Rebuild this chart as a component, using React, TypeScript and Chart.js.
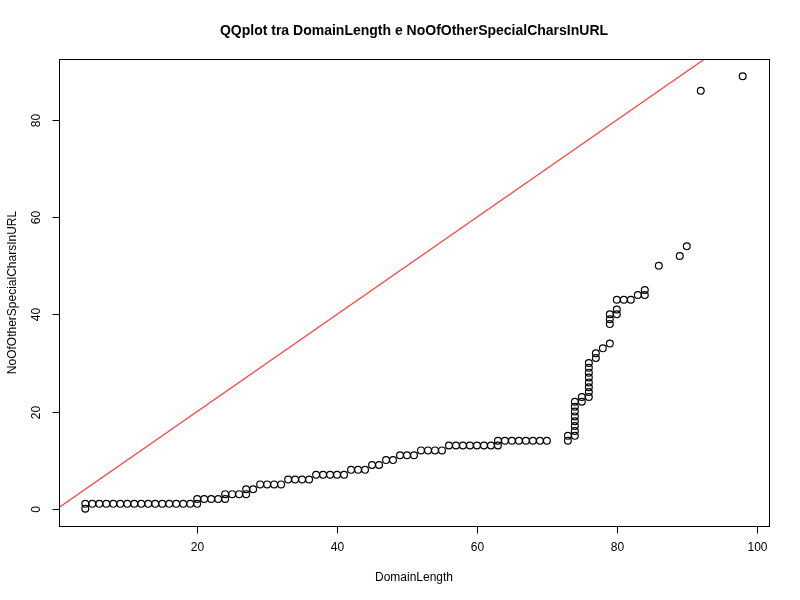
import { useEffect, useRef } from 'react';
import { Chart, registerables } from 'chart.js';

Chart.register(...registerables);

// sample quantiles (DomainLength vs NoOfOtherSpecialCharsInURL)
const domainLength = [
  4, 4, 5, 6, 7, 8, 9, 10, 11, 12, 13, 14, 15, 16, 17, 18, 19,
  20, 20, 21, 22, 23, 24, 24, 25, 26, 27, 27, 28, 29, 30, 31, 32,
  33, 34, 35, 36, 37, 38, 39, 40, 41, 42, 43, 44, 45, 46, 47, 48,
  49, 50, 51, 52, 53, 54, 55, 56, 57, 58, 59, 60, 61, 62, 63, 63,
  64, 65, 66, 67, 68, 69, 70, 73, 73, 74, 74, 74, 74, 74, 74, 74, 74,
  75, 75, 76, 76, 76, 76, 76, 76, 76, 76, 77, 77, 78, 79, 79, 79, 79,
  80, 80, 80, 81, 82, 83, 84, 84, 86, 89, 90, 92, 98,
];
const specialChars = [
  0, 1, 1, 1, 1, 1, 1, 1, 1, 1, 1, 1, 1, 1, 1, 1, 1,
  1, 2, 2, 2, 2, 2, 3, 3, 3, 3, 4, 4, 5, 5, 5, 5,
  6, 6, 6, 6, 7, 7, 7, 7, 7, 8, 8, 8, 9, 9, 10, 10,
  11, 11, 11, 12, 12, 12, 12, 13, 13, 13, 13, 13, 13, 13, 13, 14,
  14, 14, 14, 14, 14, 14, 14, 14, 15, 15, 16, 17, 18, 19, 20, 21, 22,
  22, 23, 23, 24, 25, 26, 27, 28, 29, 30, 31, 32, 33, 34, 38, 39, 40,
  40, 41, 43, 43, 43, 44, 44, 45, 50, 52, 54, 86, 89,
];
const xTicks = [20, 40, 60, 80, 100];
const yTicks = [0, 20, 40, 60, 80];
const refLine = [-10, 120];

const FONT = 'Liberation Sans, Arial, sans-serif';

const rAxes = {
  id: 'rAxes',
  afterDraw(chart: Chart) {
    const { ctx, chartArea: a, scales } = chart;
    const x = scales.x;
    const y = scales.y;
    ctx.save();
    ctx.strokeStyle = '#000';
    ctx.lineWidth = 1;
    ctx.strokeRect(Math.round(a.left) + 0.5, Math.round(a.top) + 0.5, Math.round(a.width), Math.round(a.height));
    ctx.fillStyle = '#000';
    ctx.font = `12px ${FONT}`;
    // x axis
    const xb = Math.round(a.bottom) + 0.5;
    ctx.beginPath();
    ctx.moveTo(x.getPixelForValue(xTicks[0]), xb);
    ctx.lineTo(x.getPixelForValue(xTicks[xTicks.length - 1]), xb);
    ctx.textAlign = 'center';
    ctx.textBaseline = 'top';
    xTicks.forEach((t) => {
      const p = Math.round(x.getPixelForValue(t)) + 0.5;
      ctx.moveTo(p, xb);
      ctx.lineTo(p, xb + 7);
      ctx.fillText(String(t), p, xb + 15);
    });
    ctx.stroke();
    // y axis
    const yl = Math.round(a.left) + 0.5;
    ctx.beginPath();
    ctx.moveTo(yl, y.getPixelForValue(yTicks[0]));
    ctx.lineTo(yl, y.getPixelForValue(yTicks[yTicks.length - 1]));
    yTicks.forEach((t) => {
      const p = Math.round(y.getPixelForValue(t)) + 0.5;
      ctx.moveTo(yl, p);
      ctx.lineTo(yl - 7, p);
      ctx.save();
      ctx.translate(yl - 17, p);
      ctx.rotate(-Math.PI / 2);
      ctx.textBaseline = 'bottom';
      ctx.fillText(String(t), 0, 0);
      ctx.restore();
    });
    ctx.stroke();
    // titles
    const cx = (a.left + a.right) / 2;
    ctx.font = `bold 14px ${FONT}`;
    ctx.textBaseline = 'middle';
    ctx.fillText('QQplot tra DomainLength e NoOfOtherSpecialCharsInURL', cx, 31);
    ctx.font = `12px ${FONT}`;
    ctx.fillText('DomainLength', cx, 578);
    ctx.save();
    ctx.translate(13, (a.top + a.bottom) / 2);
    ctx.rotate(-Math.PI / 2);
    ctx.fillText('NoOfOtherSpecialCharsInURL', 0, 0);
    ctx.restore();
    ctx.restore();
  },
};

export default function App() {
  const canvasRef = useRef<HTMLCanvasElement>(null);

  useEffect(() => {
    document.body.style.margin = '0';
    if (!canvasRef.current) return;
    const chart = new Chart(canvasRef.current, {
      type: 'scatter',
      data: {
        datasets: [
          {
            data: domainLength.map((v, i) => ({ x: v, y: specialChars[i] })),
            pointStyle: 'circle',
            pointRadius: 3.4,
            borderColor: '#000',
            borderWidth: 1.2,
            backgroundColor: 'rgba(0,0,0,0)',
          },
          {
            type: 'line',
            data: refLine.map((v) => ({ x: v, y: v })),
            borderColor: '#ff3b3b',
            borderWidth: 1.2,
            pointRadius: 0,
          },
        ],
      },
      options: {
        animation: false,
        responsive: false,
        layout: { padding: { left: 59, right: 31, top: 59, bottom: 74 } },
        plugins: { legend: { display: false }, tooltip: { enabled: false } },
        scales: {
          x: { type: 'linear', display: false, min: 0.24, max: 101.76 },
          y: { type: 'linear', display: false, min: -3.56, max: 92.56 },
        },
      },
      plugins: [rAxes],
    });
    return () => chart.destroy();
  }, []);

  return (
    <div style={{ width: 800, height: 600, background: '#fff' }}>
      <canvas ref={canvasRef} width={800} height={600} style={{ display: 'block' }} />
    </div>
  );
}
